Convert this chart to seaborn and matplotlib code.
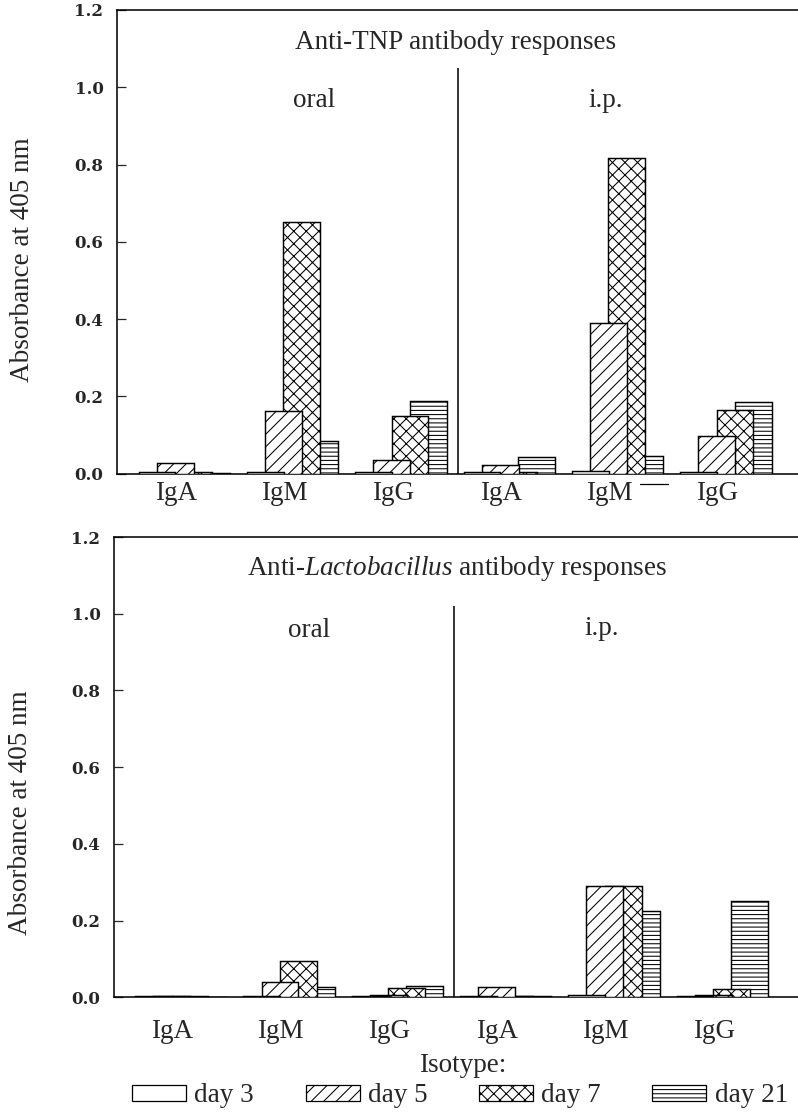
import numpy as np
import pandas as pd
import matplotlib
matplotlib.use("Agg")
import matplotlib.pyplot as plt
import seaborn as sns
from matplotlib.patches import Patch

# ---- data -------------------------------------------------------------
isotypes = ["IgA", "IgM", "IgG", "IgA", "IgM", "IgG"]   # oral x3, then i.p. x3
routes = ["oral", "i.p."]
days = ["day 3", "day 5", "day 7", "day 21"]

# Anti-TNP absorbance (405 nm)
tnp_day3 = [0.003, 0.005, 0.003, 0.003, 0.006, 0.003]
tnp_day5 = [0.028, 0.162, 0.034, 0.021, 0.390, 0.097]
tnp_day7 = [0.005, 0.650, 0.150, 0.003, 0.816, 0.165]
tnp_day21 = [0.002, 0.083, 0.188, 0.044, 0.046, 0.184]

# Anti-Lactobacillus absorbance (405 nm)
lac_day3 = [0.003, 0.004, 0.003, 0.003, 0.006, 0.004]
lac_day5 = [0.003, 0.041, 0.006, 0.027, 0.289, 0.006]
lac_day7 = [0.003, 0.095, 0.025, 0.003, 0.289, 0.021]
lac_day21 = [0.002, 0.028, 0.029, 0.003, 0.226, 0.252]

yticks = [0.0, 0.2, 0.4, 0.6, 0.8, 1.0, 1.2]

# ---- style ------------------------------------------------------------
W, H, DPI = 798, 1112, 75
sns.set_theme(style="ticks")
plt.rcParams.update({
    "font.family": ["Liberation Serif", "DejaVu Serif"],
    "mathtext.fontset": "custom",
    "mathtext.rm": "Liberation Serif",
    "mathtext.it": "Liberation Serif:italic",
    "hatch.linewidth": 1.0,
    "axes.linewidth": 1.5,
    "axes.edgecolor": "black",
})

HATCHES = ["", "//", "xx", "---"]
WIDTH = 0.34      # bar width (group spacing = 1)
STEP = 0.168      # offset between overlapping bars of one group
SHIFT = 0.077     # bars sit a little right of the tick label
TXT = 26
TICKFONT = dict(family="DejaVu Serif", weight="bold", size=16)

fig = plt.figure(figsize=(W / DPI, H / DPI), dpi=DPI)


def px_rect(left, top, right, bottom):
    return [left / W, 1 - bottom / H, (right - left) / W, (bottom - top) / H]


def draw_panel(ax, series, xlim, divider_top, label_pad):
    pos = np.arange(len(isotypes))
    # later days go behind earlier ones
    for k in reversed(range(len(days))):
        n0 = len(ax.patches)
        df = pd.DataFrame({"x": pos + SHIFT + (k - 1.5) * STEP, "y": series[k]})
        sns.barplot(data=df, x="x", y="y", native_scale=True, width=WIDTH,
                    color="white", edgecolor="black", linewidth=1.4,
                    errorbar=None, ax=ax, zorder=10 - k)
        for p in ax.patches[n0:]:
            p.set_hatch(HATCHES[k])
            p.set_facecolor("white")
            p.set_edgecolor("black")
    ax.set(xlabel="", ylabel="")
    ax.set_xlim(*xlim)
    ax.set_ylim(0, 1.2)
    ax.set_xticks(pos)
    ax.set_xticklabels(isotypes, fontsize=TXT)
    ax.set_yticks(yticks)
    ax.set_yticklabels([f"{v:.1f}" for v in yticks], fontdict=TICKFONT)
    ax.tick_params(axis="y", direction="in", length=9, width=1.2, pad=13, left=True)
    ax.tick_params(axis="x", length=0, pad=label_pad, bottom=True)
    ax.spines["right"].set_visible(False)
    for s in ["left", "bottom", "top"]:
        ax.spines[s].set_linewidth(1.5)
    ax.vlines(2.6, 0, divider_top, color="black", linewidth=1.5, zorder=20)


# top panel: anti-TNP
ax1 = fig.add_axes(px_rect(117, 10, 798, 473.5))
draw_panel(ax1, [tnp_day3, tnp_day5, tnp_day7, tnp_day21],
           (-0.545, 5.743), 1.05, 7)
ax1.text(2.585, 1.098, "Anti-TNP antibody responses", ha="center",
         va="baseline", fontsize=TXT)
ax1.text(1.27, 0.948, routes[0], ha="center", va="baseline", fontsize=TXT)
ax1.text(3.97, 0.948, routes[1], ha="center", va="baseline", fontsize=TXT)
# short rule under the i.p. IgM group
ax1.plot([4.28, 4.54], [-0.027, -0.027], color="black", lw=1.2, clip_on=False)

# bottom panel: anti-Lactobacillus
ax2 = fig.add_axes(px_rect(114, 537, 798, 997.3))
draw_panel(ax2, [lac_day3, lac_day5, lac_day7, lac_day21],
           (-0.54, 5.776), 1.02, 21)
ax2.text(2.63, 1.102, r"Anti-$\it{Lactobacillus}$ antibody responses",
         ha="center", va="baseline", fontsize=TXT)
ax2.text(1.26, 0.94, routes[0], ha="center", va="baseline", fontsize=TXT)
ax2.text(3.96, 0.945, routes[1], ha="center", va="baseline", fontsize=TXT)

# y labels
fig.text(23 / W, 1 - 260 / H, "Absorbance at 405 nm", rotation=90,
         ha="center", va="center", fontsize=TXT)
fig.text(21 / W, 1 - 813 / H, "Absorbance at 405 nm", rotation=90,
         ha="center", va="center", fontsize=TXT)

# x-axis title and legend
fig.text(463 / W, 1 - 1066 / H, "Isotype:", ha="center", va="center", fontsize=TXT)
handles = [Patch(facecolor="white", edgecolor="black", hatch=h, linewidth=1.2, label=d)
           for h, d in zip(HATCHES, days)]
fig.legend(handles=handles, ncol=4, loc="center",
           bbox_to_anchor=(460 / W, 1 - 1096 / H), frameon=False,
           fontsize=TXT, handlelength=2.0, handleheight=0.5,
           handletextpad=0.3, columnspacing=1.9, borderpad=0.1)

fig.savefig("out.png", dpi=DPI)
